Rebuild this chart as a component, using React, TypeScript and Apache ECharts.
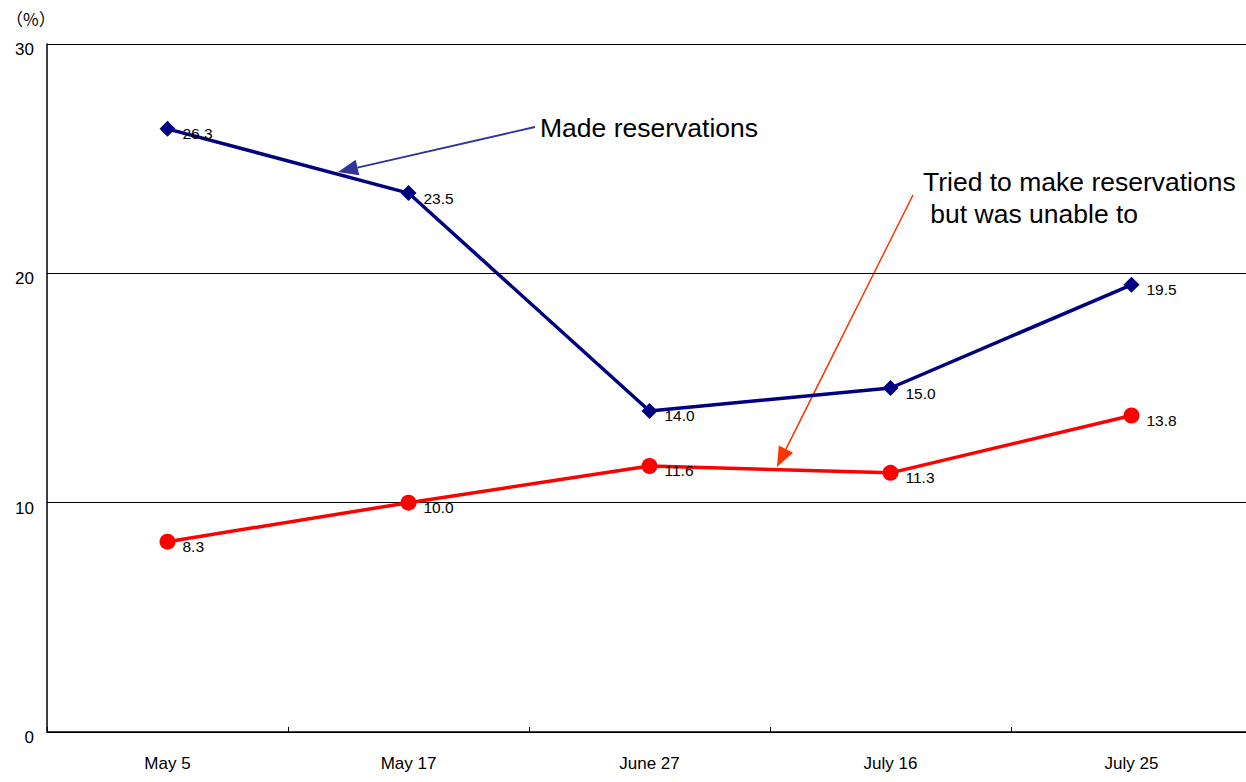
import React, { useEffect, useRef } from "react";
import * as echarts from "echarts";

const categories = ["May 5", "May 17", "June 27", "July 16", "July 25"];
const madeReservations = [26.3, 23.5, 14.0, 15.0, 19.5];
const triedButUnable = [8.3, 10.0, 11.6, 11.3, 13.8];
const yMin = 0;
const yMax = 30;
const yStep = 10;

const FONT = "'Liberation Sans', Arial, sans-serif";

// arrow: a shaft from `from` to `to` with a filled triangular head at `to`
function arrow(from: number[], to: number[], color: string, width: number) {
  const dx = to[0] - from[0];
  const dy = to[1] - from[1];
  const len = Math.hypot(dx, dy);
  const ux = dx / len;
  const uy = dy / len;
  const headLen = 20;
  const halfW = 8;
  const bx = to[0] - ux * headLen;
  const by = to[1] - uy * headLen;
  return [
    {
      type: "line",
      shape: { x1: from[0], y1: from[1], x2: bx, y2: by },
      style: { stroke: color, lineWidth: width },
      silent: true,
    },
    {
      type: "polygon",
      shape: {
        points: [
          [to[0], to[1]],
          [bx - uy * halfW, by + ux * halfW],
          [bx + uy * halfW, by - ux * halfW],
        ],
      },
      style: { fill: color },
      silent: true,
    },
  ];
}

export default function App() {
  const ref = useRef<HTMLDivElement>(null);

  useEffect(() => {
    if (!ref.current) return;
    const chart = echarts.init(ref.current, undefined, { renderer: "svg" });

    const labelStyle = {
      show: true,
      position: "right",
      distance: 7,
      offset: [0, 5],
      color: "#000",
      fontSize: 15.5,
      fontFamily: FONT,
      formatter: (p: any) => Number(p.value).toFixed(1),
    };

    chart.setOption({
      animation: false,
      backgroundColor: "#fff",
      grid: { left: 47, right: 8, top: 44, bottom: 50, containLabel: false },
      xAxis: {
        type: "category",
        data: categories,
        boundaryGap: true,
        axisLine: { show: true, lineStyle: { color: "#000", width: 1.5 } },
        axisTick: { show: true, inside: true, length: 5, lineStyle: { color: "#000" } },
        axisLabel: { color: "#000", fontSize: 17, fontFamily: FONT, margin: 23 },
        splitLine: { show: false },
      },
      yAxis: {
        type: "value",
        min: yMin,
        max: yMax,
        interval: yStep,
        axisLine: { show: true, lineStyle: { color: "#000", width: 1.5 } },
        axisTick: { show: false },
        axisLabel: {
          color: "#000",
          fontSize: 17,
          fontFamily: FONT,
          margin: 13,
          verticalAlign: "top",
          lineHeight: 11,
        },
        splitLine: { show: true, lineStyle: { color: "#000", width: 1 } },
      },
      series: [
        {
          name: "Made reservations",
          type: "line",
          data: madeReservations,
          symbol: "diamond",
          symbolSize: 16,
          lineStyle: { color: "#000080", width: 3.5 },
          itemStyle: { color: "#000080" },
          label: labelStyle,
          z: 3,
        },
        {
          name: "Tried to make reservations but was unable to",
          type: "line",
          data: triedButUnable,
          symbol: "circle",
          symbolSize: 16,
          lineStyle: { color: "#ff0000", width: 3.5 },
          itemStyle: { color: "#ff0000" },
          label: labelStyle,
          z: 3,
        },
      ],
      graphic: [
        {
          type: "text",
          x: 6,
          y: 18,
          style: {
            text: "（%）",
            fill: "#000",
            fontSize: 17,
            fontFamily: "'Noto Sans CJK JP', sans-serif",
            verticalAlign: "middle",
          },
        },
        {
          type: "text",
          x: 540,
          y: 128,
          style: {
            text: "Made reservations",
            fill: "#000",
            fontSize: 26.5,
            fontFamily: FONT,
            verticalAlign: "middle",
          },
        },
        {
          type: "text",
          x: 923,
          y: 166,
          style: {
            text: "Tried to make reservations\n but was unable to",
            fill: "#000",
            fontSize: 26.5,
            lineHeight: 32,
            fontFamily: FONT,
          },
        },
        ...arrow([535, 127], [338, 172], "#333399", 1.8),
        ...arrow([913, 195], [777, 467], "#ff3300", 1.5),
      ],
    });

    return () => chart.dispose();
  }, []);

  return (
    <div
      ref={ref}
      style={{ position: "fixed", left: 0, top: 0, width: 1260, height: 782 }}
    />
  );
}
